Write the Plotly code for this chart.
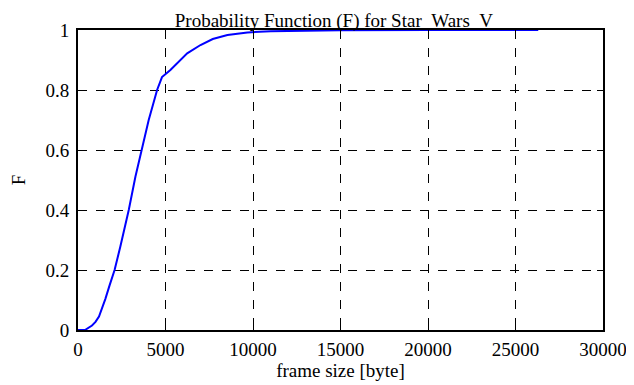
import plotly.graph_objects as go

frame_size = [0, 400, 800, 1000, 1200, 1400, 1560, 1800, 2090, 2420, 2900, 3280, 3620,
              4040, 4520, 4800, 5280, 5800, 6240, 7000, 7700, 8540, 9680, 11000, 12500,
              15000, 20000, 26300]
F = [0.0, 0.0, 0.015, 0.027, 0.045, 0.075, 0.103, 0.148, 0.2, 0.278, 0.4, 0.511, 0.6,
     0.7, 0.8, 0.843, 0.867, 0.897, 0.922, 0.95, 0.97, 0.983, 0.992, 0.996, 0.998,
     0.999, 0.9997, 1.0]

x_ticks = [0, 5000, 10000, 15000, 20000, 25000, 30000]
y_ticks = [0, 0.2, 0.4, 0.6, 0.8, 1]

font = "Times New Roman"
fsize = 19

fig = go.Figure()
fig.add_trace(go.Scatter(x=frame_size, y=F, mode="lines",
                         line=dict(color="#0000ff", width=2), showlegend=False))

axis_common = dict(
    showline=True, linecolor="black", linewidth=2, mirror="ticks",
    ticks="inside", ticklen=6, tickwidth=1, tickcolor="black",
    showgrid=True, gridcolor="black", gridwidth=1, griddash="dash",
    zeroline=False, automargin=False,
    tickfont=dict(family=font, size=fsize, color="black"),
)

fig.update_layout(
    width=634, height=385,
    margin=dict(l=70, r=39, t=22, b=63),
    paper_bgcolor="white", plot_bgcolor="white",
    font=dict(family=font, size=fsize, color="black"),
    title=dict(text="Probability Function (F) for Star_Wars_V", x=0.514, xanchor="center",
               y=0.985, yanchor="top", font=dict(family=font, size=fsize, color="black")),
    xaxis=dict(range=[0, 30000], tickvals=x_ticks, tickformat="d", ticklabelstandoff=1,
               title=dict(text="frame size [byte]", font=dict(family=font, size=fsize, color="black"),
                          standoff=5),
               **axis_common),
    yaxis=dict(range=[0, 1], tickvals=y_ticks, ticklabelstandoff=3,
               title=dict(text="F", font=dict(family=font, size=fsize, color="black"), standoff=32),
               **axis_common),
)

fig.write_html("out.html")
